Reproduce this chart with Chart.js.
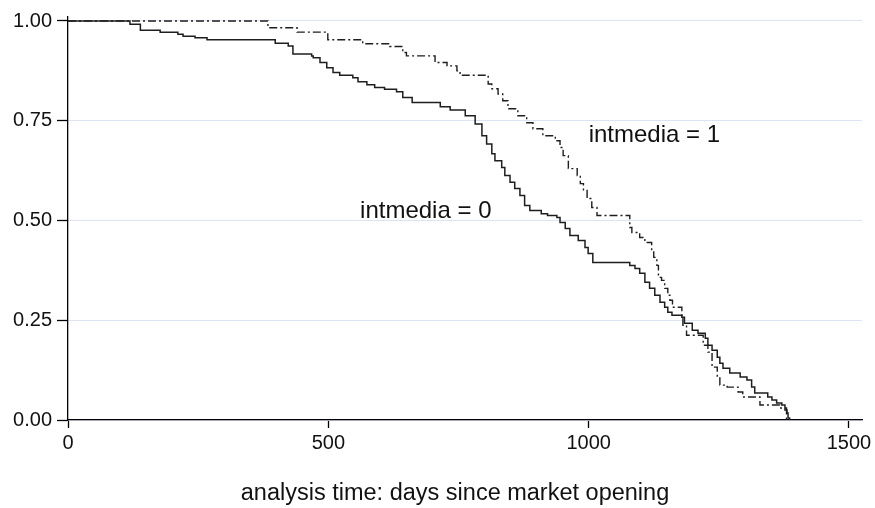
<!DOCTYPE html>
<html>
<head>
<meta charset="utf-8">
<script src="https://cdn.jsdelivr.net/npm/chart.js@4/dist/chart.umd.min.js"></script>
<style>
  body { margin: 0; background: #fff; }
  #km { display: block; }
</style>
</head>
<body>
<canvas id="km" width="875" height="508"></canvas>
<script>
// Kaplan-Meier estimates (time in days, survival after the step)
const time0 = [0, 119, 139, 177, 211, 221, 244, 267, 398, 423, 432, 468, 471, 484, 497, 509, 522, 547, 557, 574,
  589, 608, 631, 643, 661, 715, 734, 763, 782, 795, 804, 814, 820, 833, 839, 849, 858, 868, 877, 887,
  909, 921, 939, 945, 955, 964, 980, 993, 999, 1008, 1079, 1089, 1098, 1108, 1117, 1127, 1137, 1146, 1152, 1160,
  1179, 1184, 1199, 1210, 1224, 1229, 1237, 1247, 1252, 1258, 1271, 1291, 1304, 1313, 1319, 1344, 1352, 1361, 1371, 1377,
  1381, 1383, 1386];
const surv0 = [1, 0.992, 0.977, 0.972, 0.967, 0.962, 0.958, 0.953, 0.944, 0.9375, 0.917, 0.9125, 0.908, 0.896, 0.883, 0.871, 0.864, 0.858, 0.848, 0.84,
  0.833, 0.829, 0.8225, 0.808, 0.796, 0.785, 0.777, 0.7625, 0.742, 0.7125, 0.692, 0.667, 0.65, 0.633, 0.6125, 0.596, 0.58, 0.5625, 0.5375, 0.525,
  0.517, 0.5125, 0.5075, 0.495, 0.48, 0.4625, 0.45, 0.4325, 0.4175, 0.395, 0.3875, 0.38, 0.3675, 0.345, 0.33, 0.3125, 0.295, 0.2825, 0.27, 0.2625,
  0.2575, 0.2425, 0.225, 0.2175, 0.205, 0.1875, 0.175, 0.1575, 0.1425, 0.13, 0.1175, 0.1075, 0.1, 0.0825, 0.0675, 0.0575, 0.05, 0.0425, 0.0375, 0.025,
  0.0175, 0.005, 0];

const time1 = [0, 384, 440, 499, 566, 618, 643, 650, 705, 728, 747, 753, 807, 814, 826, 835, 845, 864, 881, 893,
  912, 936, 945, 951, 961, 978, 984, 990, 997, 1006, 1016, 1079, 1083, 1098, 1108, 1121, 1125, 1131, 1134, 1140,
  1146, 1152, 1156, 1161, 1179, 1181, 1188, 1220, 1229, 1237, 1247, 1252, 1266, 1287, 1296, 1329, 1367, 1380];
const surv1 = [1, 0.983, 0.972, 0.953, 0.943, 0.936, 0.921, 0.9125, 0.896, 0.8875, 0.875, 0.864, 0.842, 0.83, 0.817, 0.8, 0.78, 0.7625, 0.745, 0.73,
  0.7125, 0.7, 0.683, 0.6625, 0.63, 0.6125, 0.5925, 0.575, 0.555, 0.5325, 0.5125, 0.4825, 0.47, 0.4575, 0.445, 0.425, 0.4075, 0.3875, 0.3575, 0.35,
  0.33, 0.3125, 0.3, 0.2825, 0.255, 0.2375, 0.2125, 0.1875, 0.17, 0.1325, 0.1075, 0.0875, 0.0825, 0.07, 0.0575, 0.0375, 0.03, 0];

const xTicks = [0, 500, 1000, 1500];
const yTicks = [0, 0.25, 0.5, 0.75, 1];
const groupLabels = ['intmedia = 0', 'intmedia = 1'];
const labelSpots = [[561, 0.5225], [1000, 0.7125]];
const xTitle = 'analysis time: days since market opening';

const FONT = "'Liberation Sans', Arial, sans-serif";

function toPoints(t, s) {
  return t.map((v, i) => ({ x: v, y: s[i] }));
}

// group names next to the curves + the x axis title (sits a bit left of centre in the original)
const curveLabels = {
  id: 'curveLabels',
  afterDatasetsDraw(chart) {
    const { ctx, chartArea, scales: { x, y } } = chart;
    ctx.save();
    ctx.font = '24px ' + FONT;
    ctx.fillStyle = '#111';
    ctx.textAlign = 'left';
    ctx.textBaseline = 'middle';
    groupLabels.forEach((txt, i) => {
      ctx.fillText(txt, x.getPixelForValue(labelSpots[i][0]), y.getPixelForValue(labelSpots[i][1]));
    });

    ctx.font = '23.5px ' + FONT;
    ctx.textAlign = 'center';
    ctx.textBaseline = 'alphabetic';
    ctx.fillText(xTitle, (chartArea.left + chartArea.right) / 2 - 10, 500);
    ctx.restore();
  }
};

new Chart(document.getElementById('km'), {
  type: 'line',
  data: {
    datasets: [
      {
        label: groupLabels[0],
        data: toPoints(time0, surv0),
        borderColor: '#1e1e1e',
        borderWidth: 1.5,
        stepped: 'before',
        pointRadius: 0,
        fill: false
      },
      {
        label: groupLabels[1],
        data: toPoints(time1, surv1),
        borderColor: '#1e1e1e',
        borderWidth: 1.4,
        borderDash: [8, 3, 2, 3],
        stepped: 'before',
        pointRadius: 0,
        fill: false
      }
    ]
  },
  options: {
    responsive: false,
    animation: false,
    layout: { padding: { top: 16, right: 13, left: 0, bottom: 0 } },
    plugins: {
      legend: { display: false },
      tooltip: { enabled: false }
    },
    scales: {
      x: {
        type: 'linear',
        min: 0,
        max: 1525,
        afterFit(scale) { scale.height = 88; },
        afterBuildTicks(scale) { scale.ticks = xTicks.map(v => ({ value: v })); },
        border: { color: '#000', width: 1.3 },
        grid: { drawOnChartArea: false, tickLength: 8, tickColor: '#000', tickWidth: 1.3 },
        ticks: {
          color: '#111',
          font: { family: FONT, size: 20 },
          padding: 3,
          maxRotation: 0,
          callback: v => String(v)
        }
      },
      y: {
        min: 0,
        max: 1.01,
        afterFit(scale) { scale.width = 68; },
        afterBuildTicks(scale) { scale.ticks = yTicks.map(v => ({ value: v })); },
        border: { color: '#000', width: 1.3 },
        grid: { color: '#dde3f0', lineWidth: 1, tickLength: 11, tickColor: '#000', tickWidth: 1.3 },
        ticks: {
          color: '#111',
          font: { family: FONT, size: 20 },
          padding: 5,
          callback: v => v.toFixed(2)
        }
      }
    }
  },
  plugins: [curveLabels]
});
</script>
</body>
</html>
